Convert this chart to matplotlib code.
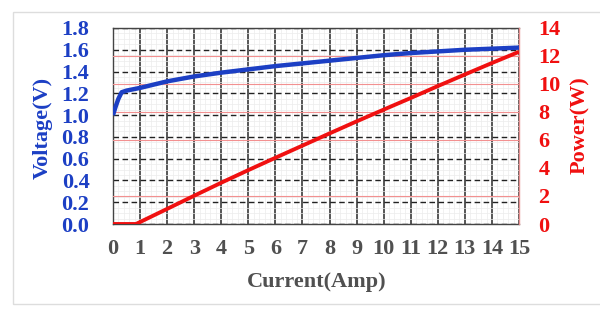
import matplotlib
matplotlib.use("Agg")
import matplotlib.pyplot as plt
from matplotlib.ticker import MultipleLocator
from matplotlib.patches import Rectangle

# ---- data ----
current_v = [0, 0.1, 0.2, 0.32, 0.5, 1, 2, 3, 4, 5, 6, 7, 8, 9, 10, 11, 12, 13, 14, 15]
voltage = [1.0, 1.08, 1.15, 1.21, 1.225, 1.25, 1.31, 1.355, 1.39, 1.42, 1.45,
           1.475, 1.5, 1.525, 1.55, 1.57, 1.585, 1.60, 1.61, 1.62]
current_p = [0, 0.85, 2, 3, 4, 5, 6, 7, 8, 9, 10, 11, 12, 13, 14, 15]
power = [0, 0, 1.08, 2.02, 2.95, 3.85, 4.73, 5.6, 6.47, 7.33, 8.17, 9.0,
         9.85, 10.68, 11.5, 12.3]
x_ticks = list(range(0, 16))
v_ticks = [0.0, 0.2, 0.4, 0.6, 0.8, 1.0, 1.2, 1.4, 1.6, 1.8]
p_ticks = [0, 2, 4, 6, 8, 10, 12, 14]
p_grid = [2, 6, 8, 10, 12]

BLUE = "#1c3fc4"
RED = "#f01010"
GRAY = "#505050"

plt.rcParams["font.family"] = ["Liberation Serif", "DejaVu Serif"]
plt.rcParams["font.weight"] = "bold"

fig = plt.figure(figsize=(6, 3.14), dpi=100)
fig.patch.set_facecolor("white")
fig.patches.append(Rectangle((13 / 600, 10 / 314), 590 / 600, 292 / 314,
                             transform=fig.transFigure, fill=False,
                             ec="#dddddd", lw=1))

ax = fig.add_axes([113 / 600, 1 - 224 / 314, 406 / 600, 196 / 314])
ax.set_xlim(0, 15)
ax.set_ylim(0, 1.8)
ax.set_xticks(x_ticks)
ax.set_yticks(v_ticks)
ax.set_yticklabels([f"{v:.1f}" for v in v_ticks])
ax.xaxis.set_minor_locator(MultipleLocator(0.2))
ax.yaxis.set_minor_locator(MultipleLocator(0.05))
ax.grid(which="minor", color="#ececec", lw=0.5)
ax.xaxis.grid(which="major", color="#3a3a3a", lw=1.2)
ax.yaxis.grid(which="major", color="#222222", lw=1.0, linestyle=(0, (4, 2.5)))
ax.set_axisbelow(True)
ax.tick_params(which="both", length=0)
ax.tick_params(axis="y", colors=BLUE, labelsize=16, pad=17)
ax.tick_params(axis="x", colors=GRAY, labelsize=16, pad=11)
for s in ["left", "bottom", "top"]:
    ax.spines[s].set_color("#444444")
    ax.spines[s].set_linewidth(1.0)
ax.spines["right"].set_visible(False)

ax2 = ax.twinx()
ax2.set_ylim(0, 14)
ax2.set_yticks(p_ticks)
ax2.set_yticks([4], minor=True)
ax2.tick_params(which="major", length=0)
ax2.tick_params(which="minor", length=5, direction="in", color="#e89090")
ax2.tick_params(axis="y", which="major", colors=RED, labelsize=16, pad=14)
for t in p_grid:
    ax2.axhline(t, color="#f29090", lw=0.8, zorder=1)
for s in ["left", "bottom", "top"]:
    ax2.spines[s].set_visible(False)
ax2.spines["right"].set_color("#e89090")
ax2.spines["right"].set_linewidth(1.0)

ax2.plot(current_v, voltage, color=BLUE, lw=3.2, transform=ax.transData,
         zorder=3, solid_capstyle="butt")
ax2.plot(current_p, power, color=RED, lw=2.8, zorder=4, solid_capstyle="butt")

fig.text(43 / 600, 1 - 128 / 314, "Voltage(V)", rotation=90, color=BLUE,
         fontsize=16, fontweight="bold", ha="center", va="center")
fig.text(580 / 600, 1 - 125 / 314, "Power(W)", rotation=90, color=RED,
         fontsize=16, fontweight="bold", ha="center", va="center")
fig.text(317 / 600, 1 - 282 / 314, "Current(Amp)", color=GRAY,
         fontsize=16, fontweight="bold", ha="center", va="center")

fig.savefig("out.png", dpi=100)
